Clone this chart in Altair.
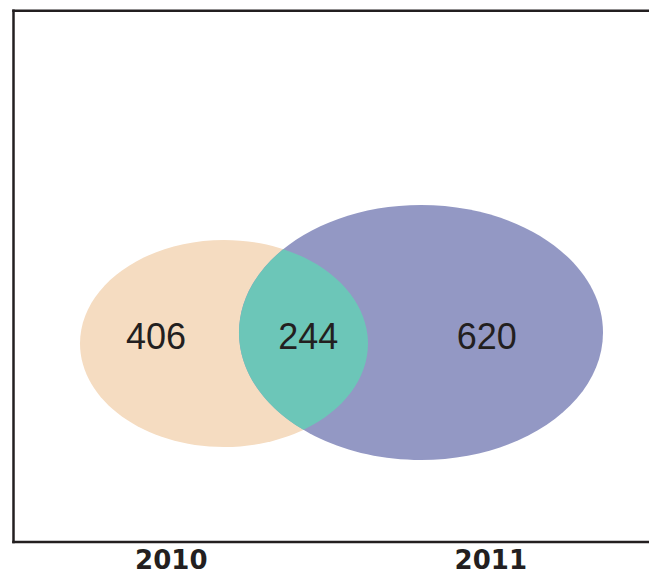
import altair as alt
import numpy as np
import pandas as pd

# ---- data ----
set_names = ["2010", "2011"]
unique_counts = [406, 620]
shared_count = 244

# ---- layout (chart pixel space) ----
W, H = 641, 568
ELL_CX = [216.0, 413.0]
ELL_CY = [335.5, 324.5]
ELL_RX = [144.0, 182.0]
ELL_RY = [103.5, 127.5]
COLORS = ["#f5dcc1", "#9398c4"]
LENS_COLOR = "#6cc6b8"
NUM_X = [148.0, 478.7]
LENS_X = 300.3
NUM_Y = 340.5
LABEL_X = [163.3, 482.8]
LABEL_Y = 561.0
FRAME_L, FRAME_T, FRAME_B, FRAME_R = 5.5, 2.7, 534.0, W + 10
INK = "#231f20"


def ellipse_path(rx, ry):
    return f"M {-rx} 0 A {rx} {ry} 0 1 1 {rx} 0 A {rx} {ry} 0 1 1 {-rx} 0 Z"


def lens():
    t = np.linspace(0, 2 * np.pi, 40001)
    x = ELL_CX[0] + ELL_RX[0] * np.cos(t)
    y = ELL_CY[0] + ELL_RY[0] * np.sin(t)
    f = ((x - ELL_CX[1]) / ELL_RX[1]) ** 2 + ((y - ELL_CY[1]) / ELL_RY[1]) ** 2 - 1
    idx = np.where(np.sign(f[:-1]) != np.sign(f[1:]))[0]
    pts = sorted([(x[i], y[i]) for i in idx], key=lambda p: p[1])
    (x1, y1), (x2, y2) = pts[0], pts[-1]
    cx, cy = (x1 + x2) / 2, (y1 + y2) / 2
    a1, b1 = ELL_RX[0], ELL_RY[0]
    a2, b2 = ELL_RX[1], ELL_RY[1]
    p = (f"M {x1-cx:.3f} {y1-cy:.3f} A {a1} {b1} 0 0 1 {x2-cx:.3f} {y2-cy:.3f} "
         f"A {a2} {b2} 0 0 1 {x1-cx:.3f} {y1-cy:.3f} Z")
    return cx, cy, p


lcx, lcy, lpath = lens()
shapes = pd.DataFrame({
    "x": ELL_CX + [lcx],
    "y": ELL_CY + [lcy],
    "path": [ellipse_path(ELL_RX[0], ELL_RY[0]), ellipse_path(ELL_RX[1], ELL_RY[1]), lpath],
    "color": COLORS + [LENS_COLOR],
    "order": [0, 1, 2],
})

numbers = pd.DataFrame({
    "x": [NUM_X[0], LENS_X, NUM_X[1]],
    "y": [NUM_Y] * 3,
    "label": [str(unique_counts[0]), str(shared_count), str(unique_counts[1])],
})

labels = pd.DataFrame({"x": LABEL_X, "y": [LABEL_Y] * 2, "label": set_names})

frame = pd.DataFrame({
    "x": [FRAME_L, FRAME_L, FRAME_L],
    "x2": [FRAME_R, FRAME_L, FRAME_R],
    "y": [FRAME_T, FRAME_T, FRAME_B],
    "y2": [FRAME_T, FRAME_B, FRAME_B],
})

xs = alt.Scale(domain=[0, W], range=[0, W], nice=False, zero=False)
ys = alt.Scale(domain=[0, H], range=[0, H], nice=False, zero=False)

shape_layer = alt.Chart(shapes).mark_point(filled=True, opacity=1, strokeWidth=0).encode(
    x=alt.X("x:Q", scale=xs, axis=None),
    y=alt.Y("y:Q", scale=ys, axis=None),
    shape=alt.Shape("path:N", scale=None, legend=None),
    color=alt.Color("color:N", scale=None, legend=None),
    size=alt.value(4),
    order=alt.Order("order:Q"),
)

num_layer = alt.Chart(numbers).mark_text(
    font="Liberation Sans", fontSize=36, baseline="alphabetic", align="center", color=INK
).encode(x=alt.X("x:Q", scale=xs, axis=None), y=alt.Y("y:Q", scale=ys, axis=None), text="label:N")

label_layer = alt.Chart(labels).mark_text(
    font="DejaVu Sans", fontWeight="bold", fontSize=26, baseline="alphabetic", align="center", color=INK
).encode(x=alt.X("x:Q", scale=xs, axis=None), y=alt.Y("y:Q", scale=ys, axis=None), text="label:N")

frame_layer = alt.Chart(frame).mark_rule(strokeWidth=2.5, color=INK, strokeCap="square").encode(
    x=alt.X("x:Q", scale=xs, axis=None), x2="x2:Q",
    y=alt.Y("y:Q", scale=ys, axis=None), y2="y2:Q",
)

chart = alt.layer(shape_layer, num_layer, label_layer, frame_layer).properties(
    width=W, height=H, padding=0, autosize="none", background="white"
).configure_view(stroke=None)

chart.save("out.html", embed_options={"renderer": "svg", "actions": False})
